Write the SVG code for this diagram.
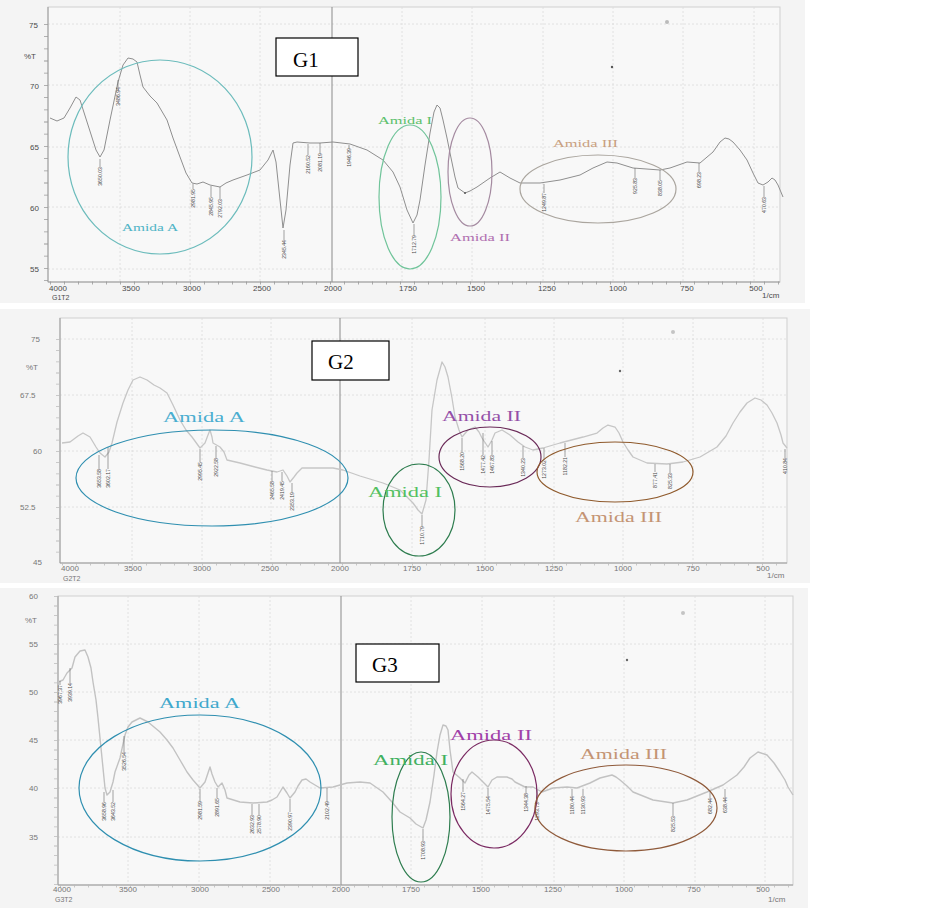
<svg xmlns="http://www.w3.org/2000/svg" width="941" height="908" viewBox="0 0 941 908">
<style>
.scan{fill:#f4f4f4}
.plot{fill:#f8f8f8;stroke:#cfcfcf;stroke-width:1}
.grid{stroke:#dadada;stroke-width:0.8;stroke-dasharray:2 2;fill:none}
.axis{stroke:#9a9a9a;stroke-width:1;fill:none}
.solid{stroke:#8a8a8a;stroke-width:1}
.tk{fill:#4a4a4a;font-family:"Liberation Sans",Arial,sans-serif;font-size:8px}
.pk{fill:#4a4a4a;font-family:"Liberation Sans",Arial,sans-serif;font-size:5.2px;text-anchor:end}
.pl{stroke:#666;stroke-width:0.6}
.gbox{fill:#fff;stroke:#000;stroke-width:1.2}
.gt{font-family:"Liberation Serif","Times New Roman",serif;font-size:21px;fill:#000}
.am{font-family:"Liberation Serif","Times New Roman",serif}
.ell{fill:none;stroke-width:1.2}
</style>

<g id="panel-G1">
<rect class="scan" x="0" y="0" width="805" height="303"/>
<rect class="plot" x="48" y="7" width="732" height="275"/>
<g class="grid">
<line x1="120" y1="7" x2="120" y2="282"/><line x1="190" y1="7" x2="190" y2="282"/><line x1="260" y1="7" x2="260" y2="282"/>
<line x1="402" y1="7" x2="402" y2="282"/><line x1="472" y1="7" x2="472" y2="282"/><line x1="543" y1="7" x2="543" y2="282"/>
<line x1="613" y1="7" x2="613" y2="282"/><line x1="683" y1="7" x2="683" y2="282"/><line x1="754" y1="7" x2="754" y2="282"/>
<line x1="48" y1="24" x2="780" y2="24"/><line x1="48" y1="85" x2="780" y2="85"/><line x1="48" y1="147" x2="780" y2="147"/><line x1="48" y1="207" x2="780" y2="207"/><line x1="48" y1="269" x2="780" y2="269"/>
</g>
<line class="solid" x1="332" y1="7" x2="332" y2="282" stroke="#666"/>
<path class="axis" d="M48 7V282H780"/>
<line x1="46" y1="24" x2="46" y2="282" stroke="#999" stroke-width="4" stroke-dasharray="0.8 11.4"/>
<line x1="50" y1="283" x2="780" y2="283" stroke="#999" stroke-width="3" stroke-dasharray="0.8 13.2"/>
<g class="tk">
<text x="29" y="28">75</text><text x="24" y="59">%T</text><text x="30" y="89">70</text><text x="30" y="150">65</text><text x="30" y="211">60</text><text x="30" y="272">55</text>
<text x="58" y="291" text-anchor="middle">4000</text><text x="131" y="291" text-anchor="middle">3500</text><text x="192" y="291" text-anchor="middle">3000</text><text x="262" y="291" text-anchor="middle">2500</text><text x="333" y="291" text-anchor="middle">2000</text><text x="408" y="291" text-anchor="middle">1750</text><text x="476" y="291" text-anchor="middle">1500</text><text x="547" y="291" text-anchor="middle">1250</text><text x="618" y="291" text-anchor="middle">1000</text><text x="687" y="291" text-anchor="middle">750</text><text x="756" y="291" text-anchor="middle">500</text>
<text x="762" y="298">1/cm</text><text x="52" y="300" font-size="7">G1T2</text>
</g>
<polyline fill="none" stroke="#8f8f8f" stroke-width="1" stroke-linejoin="round" points="50,118 57,121 64,118 70,108 76,97 80,100 88,125 96,150 100,157 104,150 110,120 118,82 123,65 128,58 133,59 137,62 140,75 143,87 150,96 157,103 167,120 173,138 180,157 186,173 192,183 197,184 203,182 210,185 220,187 226,183 233,180 247,175 260,170 268,160 273,150 276,162 280,200 283,228 286,210 290,165 293,143 297,142 310,143 320,143 333,142 350,144 367,150 383,160 393,172 400,187 407,210 413,223 417,215 420,200 425,165 430,133 434,112 437,105 440,108 443,120 447,138 450,153 455,177 458,188 465,193 470,191 477,187 490,178 500,172 505,175 510,178 520,183 540,183 560,180 580,175 593,168 607,162 617,163 633,168 660,170 670,168 687,162 700,163 713,152 720,142 725,138 729,139 733,142 740,150 747,160 753,173 758,183 763,185 768,182 772,178 775,180 778,185 783,197"/>
<g>
<line class="pl" x1="100" y1="159" x2="100" y2="167"/><text class="pk" transform="translate(101.8,167) rotate(-90)">3650.03</text>
<line class="pl" x1="118" y1="80" x2="118" y2="87"/><text class="pk" transform="translate(119.8,87) rotate(-90)">3486.94</text>
<line class="pl" x1="193" y1="184" x2="193" y2="189"/><text class="pk" transform="translate(194.8,189) rotate(-90)">2981.95</text>
<line class="pl" x1="211" y1="186" x2="211" y2="197"/><text class="pk" transform="translate(212.8,197) rotate(-90)">2845.95</text>
<line class="pl" x1="220" y1="187" x2="220" y2="199"/><text class="pk" transform="translate(221.8,199) rotate(-90)">2792.03</text>
<line class="pl" x1="284" y1="230" x2="284" y2="240"/><text class="pk" transform="translate(285.8,240) rotate(-90)">2345.44</text>
<line class="pl" x1="308" y1="144" x2="308" y2="155"/><text class="pk" transform="translate(309.8,155) rotate(-90)">2160.52</text>
<line class="pl" x1="320" y1="143" x2="320" y2="153"/><text class="pk" transform="translate(321.8,153) rotate(-90)">2081.19</text>
<line class="pl" x1="349" y1="145" x2="349" y2="148"/><text class="pk" transform="translate(350.8,148) rotate(-90)">1946.39</text>
<line class="pl" x1="414" y1="224" x2="414" y2="235"/><text class="pk" transform="translate(415.8,235) rotate(-90)">1712.79</text>
<line class="pl" x1="544" y1="184" x2="544" y2="193"/><text class="pk" transform="translate(545.8,193) rotate(-90)">1249.87</text>
<line class="pl" x1="635" y1="168" x2="635" y2="178"/><text class="pk" transform="translate(636.8,178) rotate(-90)">925.83</text>
<line class="pl" x1="660" y1="170" x2="660" y2="180"/><text class="pk" transform="translate(661.8,180) rotate(-90)">838.05</text>
<line class="pl" x1="699" y1="163" x2="699" y2="172"/><text class="pk" transform="translate(700.8,172) rotate(-90)">698.23</text>
<line class="pl" x1="764" y1="186" x2="764" y2="197"/><text class="pk" transform="translate(765.8,197) rotate(-90)">470.63</text>
</g>
<circle cx="612" cy="67" r="1.2" fill="#555"/><circle cx="667" cy="22" r="2" fill="#bbb"/><circle cx="465" cy="193" r="1" fill="#555"/>
<ellipse class="ell" cx="160" cy="157" rx="92" ry="97" stroke="#6cbcbc"/>
<ellipse class="ell" cx="410" cy="197" rx="31" ry="72" stroke="#70c49a"/>
<ellipse class="ell" cx="470" cy="172" rx="22" ry="54" stroke="#a48aa0"/>
<ellipse class="ell" cx="598" cy="189" rx="78" ry="34" stroke="#aaa59e"/>
<text class="am" x="122" y="231" font-size="11" textLength="56" lengthAdjust="spacingAndGlyphs" fill="#4fb4c6">Amida A</text>
<text class="am" x="378" y="124" font-size="11" textLength="54" lengthAdjust="spacingAndGlyphs" fill="#5cc06c">Amida I</text>
<text class="am" x="450" y="241" font-size="11" textLength="60" lengthAdjust="spacingAndGlyphs" fill="#b070b0">Amida II</text>
<text class="am" x="553" y="147" font-size="11" textLength="65" lengthAdjust="spacingAndGlyphs" fill="#c8a080">Amida III</text>
<rect class="gbox" x="276" y="38" width="82" height="38"/>
<text class="gt" x="293" y="67">G1</text>
</g>

<g id="panel-G2">
<rect class="scan" x="0" y="309" width="810" height="274"/>
<rect class="plot" x="60" y="318" width="727" height="245"/>
<g class="grid">
<line x1="132" y1="318" x2="132" y2="563"/><line x1="202" y1="318" x2="202" y2="563"/><line x1="271" y1="318" x2="271" y2="563"/>
<line x1="412" y1="318" x2="412" y2="563"/><line x1="485" y1="318" x2="485" y2="563"/><line x1="554" y1="318" x2="554" y2="563"/>
<line x1="623" y1="318" x2="623" y2="563"/><line x1="693" y1="318" x2="693" y2="563"/><line x1="763" y1="318" x2="763" y2="563"/>
<line x1="60" y1="339" x2="787" y2="339"/><line x1="60" y1="395" x2="787" y2="395"/><line x1="60" y1="451" x2="787" y2="451"/><line x1="60" y1="507" x2="787" y2="507"/>
</g>
<line class="solid" x1="340" y1="318" x2="340" y2="563" stroke="#aaa"/>
<path class="axis" d="M60 318V563H787" stroke="#b5b5b5"/>
<line x1="58" y1="339" x2="58" y2="563" stroke="#bbb" stroke-width="4" stroke-dasharray="0.8 10.4"/>
<line x1="62" y1="564" x2="787" y2="564" stroke="#bbb" stroke-width="3" stroke-dasharray="0.8 13.2"/>
<g class="tk">
<text x="31" y="342" fill="#777">75</text><text x="26" y="370" fill="#777">%T</text><text x="20" y="398" fill="#777">67.5</text><text x="33" y="454" fill="#777">60</text><text x="20" y="510" fill="#777">52.5</text><text x="33" y="565" fill="#777">45</text>
<text x="70" y="571" text-anchor="middle" fill="#777">4000</text><text x="133" y="571" text-anchor="middle" fill="#777">3500</text><text x="202" y="571" text-anchor="middle" fill="#777">3000</text><text x="270" y="571" text-anchor="middle" fill="#777">2500</text><text x="340" y="571" text-anchor="middle" fill="#777">2000</text><text x="412" y="571" text-anchor="middle" fill="#777">1750</text><text x="485" y="571" text-anchor="middle" fill="#777">1500</text><text x="554" y="571" text-anchor="middle" fill="#777">1250</text><text x="623" y="571" text-anchor="middle" fill="#777">1000</text><text x="693" y="571" text-anchor="middle" fill="#777">750</text><text x="763" y="571" text-anchor="middle" fill="#777">500</text>
<text x="767" y="578" fill="#777">1/cm</text><text x="63" y="581" font-size="7" fill="#777">G2T2</text>
</g>
<polyline fill="none" stroke="#c6c6c6" stroke-width="1.3" stroke-linejoin="round" points="62,443 70,442 78,436 83,433 90,437 96,447 100,453 105,457 109,452 112,443 117,422 123,403 128,390 133,380 140,377 147,380 154,385 160,388 167,393 173,405 180,420 186,430 192,437 200,448 205,443 208,435 210,430 212,437 213,443 220,447 224,452 227,460 240,463 255,467 267,470 277,472 283,470 287,476 290,482 294,477 297,473 302,468 320,468 333,468 343,470 360,476 383,483 400,490 413,503 418,510 422,514 426,500 429,460 432,410 437,380 442,362 445,367 448,377 452,398 455,417 459,430 462,437 468,430 475,427 479,432 482,438 488,447 492,440 495,433 502,430 510,435 518,442 525,447 533,450 543,448 560,443 583,437 597,433 603,428 608,425 615,427 619,433 623,442 628,450 633,457 647,463 667,464 683,462 700,457 717,447 726,436 733,423 740,412 747,403 755,398 761,400 767,405 772,413 777,423 781,435 783,443 787,448"/>
<g>
<line class="pl" x1="99" y1="455" x2="99" y2="469"/><text class="pk" transform="translate(100.8,469) rotate(-90)">3653.58</text>
<line class="pl" x1="108" y1="447" x2="108" y2="469"/><text class="pk" transform="translate(109.8,469) rotate(-90)">3602.17</text>
<line class="pl" x1="200" y1="449" x2="200" y2="462"/><text class="pk" transform="translate(201.8,462) rotate(-90)">2995.45</text>
<line class="pl" x1="216" y1="446" x2="216" y2="458"/><text class="pk" transform="translate(217.8,458) rotate(-90)">2922.58</text>
<line class="pl" x1="272" y1="471" x2="272" y2="481"/><text class="pk" transform="translate(273.8,481) rotate(-90)">2465.58</text>
<line class="pl" x1="282" y1="472" x2="282" y2="481"/><text class="pk" transform="translate(283.8,481) rotate(-90)">2419.45</text>
<line class="pl" x1="292" y1="483" x2="292" y2="492"/><text class="pk" transform="translate(293.8,492) rotate(-90)">2353.19</text>
<line class="pl" x1="422" y1="515" x2="422" y2="526"/><text class="pk" transform="translate(423.8,526) rotate(-90)">1710.79</text>
<line class="pl" x1="462" y1="438" x2="462" y2="452"/><text class="pk" transform="translate(463.8,452) rotate(-90)">1568.20</text>
<line class="pl" x1="483" y1="433" x2="483" y2="455"/><text class="pk" transform="translate(484.8,455) rotate(-90)">1477.42</text>
<line class="pl" x1="492" y1="441" x2="492" y2="455"/><text class="pk" transform="translate(493.8,455) rotate(-90)">1467.83</text>
<line class="pl" x1="523" y1="446" x2="523" y2="458"/><text class="pk" transform="translate(524.8,458) rotate(-90)">1340.23</text>
<line class="pl" x1="544" y1="448" x2="544" y2="460"/><text class="pk" transform="translate(545.8,460) rotate(-90)">1273.02</text>
<line class="pl" x1="565" y1="443" x2="565" y2="457"/><text class="pk" transform="translate(566.8,457) rotate(-90)">1182.21</text>
<line class="pl" x1="655" y1="464" x2="655" y2="472"/><text class="pk" transform="translate(656.8,472) rotate(-90)">877.41</text>
<line class="pl" x1="670" y1="464" x2="670" y2="473"/><text class="pk" transform="translate(671.8,473) rotate(-90)">825.33</text>
<line class="pl" x1="785" y1="449" x2="785" y2="458"/><text class="pk" transform="translate(786.8,458) rotate(-90)">410.84</text>
</g>
<circle cx="620" cy="371" r="1.2" fill="#666"/><circle cx="673" cy="332" r="2" fill="#c4c4c4"/>
<ellipse class="ell" cx="212" cy="478" rx="136" ry="48" stroke="#2f8fb0"/>
<ellipse class="ell" cx="419" cy="510" rx="36" ry="46" stroke="#2e7d4f"/>
<ellipse class="ell" cx="490" cy="457" rx="51" ry="30" stroke="#6a2a58"/>
<ellipse class="ell" cx="615" cy="472" rx="78" ry="30" stroke="#8f5a2c"/>
<text class="am" x="163" y="422" font-size="14" textLength="82" lengthAdjust="spacingAndGlyphs" fill="#4aaed0">Amida A</text>
<text class="am" x="368" y="497" font-size="14" textLength="74" lengthAdjust="spacingAndGlyphs" fill="#52c060">Amida I</text>
<text class="am" x="442" y="421" font-size="14" textLength="79" lengthAdjust="spacingAndGlyphs" fill="#9450a8">Amida II</text>
<text class="am" x="575" y="522" font-size="14" textLength="87" lengthAdjust="spacingAndGlyphs" fill="#c49474">Amida III</text>
<rect class="gbox" x="312" y="341" width="77" height="39"/>
<text class="gt" x="328" y="369">G2</text>
</g>

<g id="panel-G3">
<rect class="scan" x="0" y="588" width="808" height="320"/>
<rect class="plot" x="58" y="596" width="735" height="289"/>
<g class="grid">
<line x1="128" y1="596" x2="128" y2="885"/><line x1="199" y1="596" x2="199" y2="885"/><line x1="270" y1="596" x2="270" y2="885"/>
<line x1="411" y1="596" x2="411" y2="885"/><line x1="482" y1="596" x2="482" y2="885"/><line x1="554" y1="596" x2="554" y2="885"/>
<line x1="624" y1="596" x2="624" y2="885"/><line x1="695" y1="596" x2="695" y2="885"/><line x1="765" y1="596" x2="765" y2="885"/>
<line x1="58" y1="644" x2="793" y2="644"/><line x1="58" y1="692" x2="793" y2="692"/><line x1="58" y1="740" x2="793" y2="740"/><line x1="58" y1="788" x2="793" y2="788"/><line x1="58" y1="837" x2="793" y2="837"/>
</g>
<line class="solid" x1="341" y1="596" x2="341" y2="885" stroke="#b8b8b8"/>
<path class="axis" d="M58 596V885H793" stroke="#b5b5b5"/>
<line x1="56" y1="596" x2="56" y2="885" stroke="#bbb" stroke-width="4" stroke-dasharray="0.8 8.8"/>
<line x1="60" y1="886" x2="793" y2="886" stroke="#bbb" stroke-width="3" stroke-dasharray="0.8 13.2"/>
<g class="tk">
<text x="29" y="599" fill="#777">60</text><text x="25" y="623" fill="#777">%T</text><text x="29" y="647" fill="#777">55</text><text x="29" y="695" fill="#777">50</text><text x="29" y="743" fill="#777">45</text><text x="29" y="791" fill="#777">40</text><text x="29" y="840" fill="#777">35</text>
<text x="62" y="892" text-anchor="middle" fill="#777">4000</text><text x="128" y="892" text-anchor="middle" fill="#777">3500</text><text x="200" y="892" text-anchor="middle" fill="#777">3000</text><text x="271" y="892" text-anchor="middle" fill="#777">2500</text><text x="341" y="892" text-anchor="middle" fill="#777">2000</text><text x="411" y="892" text-anchor="middle" fill="#777">1750</text><text x="481" y="892" text-anchor="middle" fill="#777">1500</text><text x="553" y="892" text-anchor="middle" fill="#777">1250</text><text x="624" y="892" text-anchor="middle" fill="#777">1000</text><text x="694" y="892" text-anchor="middle" fill="#777">750</text><text x="763" y="892" text-anchor="middle" fill="#777">500</text>
<text x="768" y="902" fill="#777">1/cm</text><text x="55" y="902" font-size="7" fill="#777">G3T2</text>
</g>
<polyline fill="none" stroke="#c2c2c2" stroke-width="1.4" stroke-linejoin="round" points="58,682 63,680 67,673 72,668 75,657 80,651 85,650 88,657 91,668 93,682 96,700 98,718 100,738 102,758 105,788 107,795 110,792 113,782 115,772 120,758 125,735 128,727 132,722 140,718 148,722 154,727 160,732 167,740 173,748 180,760 187,772 193,780 200,788 205,782 208,773 210,767 212,774 215,782 218,787 222,783 225,790 227,798 240,802 253,803 267,802 272,800 277,797 283,787 287,793 290,798 295,792 298,786 302,780 306,779 310,782 320,788 333,787 347,783 360,782 370,783 383,792 392,802 400,812 410,818 416,824 423,828 426,820 430,802 434,775 437,752 440,735 443,725 446,726 448,730 450,750 453,772 460,778 465,783 469,775 472,772 478,777 483,782 488,787 492,780 497,777 507,777 512,779 515,782 525,787 533,787 542,792 553,788 567,787 577,788 590,783 600,778 612,775 616,777 620,780 627,786 633,792 653,800 673,803 687,800 707,792 723,785 737,775 744,767 750,758 758,752 767,755 774,763 780,772 785,780 788,787 793,795"/>
<g>
<line class="pl" x1="60" y1="681" x2="60" y2="685"/><text class="pk" transform="translate(61.8,685) rotate(-90)">3967.37</text>
<line class="pl" x1="70" y1="668" x2="70" y2="683"/><text class="pk" transform="translate(71.8,683) rotate(-90)">3939.14</text>
<line class="pl" x1="124" y1="736" x2="124" y2="752"/><text class="pk" transform="translate(125.8,752) rotate(-90)">3526.54</text>
<line class="pl" x1="104" y1="792" x2="104" y2="802"/><text class="pk" transform="translate(105.8,802) rotate(-90)">3658.96</text>
<line class="pl" x1="113" y1="790" x2="113" y2="802"/><text class="pk" transform="translate(114.8,802) rotate(-90)">3643.52</text>
<line class="pl" x1="200" y1="789" x2="200" y2="801"/><text class="pk" transform="translate(201.8,801) rotate(-90)">2981.59</text>
<line class="pl" x1="217" y1="788" x2="217" y2="798"/><text class="pk" transform="translate(218.8,798) rotate(-90)">2891.65</text>
<line class="pl" x1="252" y1="804" x2="252" y2="815"/><text class="pk" transform="translate(253.8,815) rotate(-90)">2632.93</text>
<line class="pl" x1="259" y1="804" x2="259" y2="815"/><text class="pk" transform="translate(260.8,815) rotate(-90)">2578.90</text>
<line class="pl" x1="290" y1="799" x2="290" y2="812"/><text class="pk" transform="translate(291.8,812) rotate(-90)">2390.97</text>
<line class="pl" x1="327" y1="788" x2="327" y2="801"/><text class="pk" transform="translate(328.8,801) rotate(-90)">2102.49</text>
<line class="pl" x1="423" y1="829" x2="423" y2="841"/><text class="pk" transform="translate(424.8,841) rotate(-90)">1708.93</text>
<line class="pl" x1="463" y1="779" x2="463" y2="792"/><text class="pk" transform="translate(464.8,792) rotate(-90)">1564.27</text>
<line class="pl" x1="488" y1="788" x2="488" y2="796"/><text class="pk" transform="translate(489.8,796) rotate(-90)">1475.54</text>
<line class="pl" x1="526" y1="786" x2="526" y2="793"/><text class="pk" transform="translate(527.8,793) rotate(-90)">1344.38</text>
<line class="pl" x1="537" y1="790" x2="537" y2="802"/><text class="pk" transform="translate(538.8,802) rotate(-90)">1293.73</text>
<line class="pl" x1="572" y1="789" x2="572" y2="796"/><text class="pk" transform="translate(573.8,796) rotate(-90)">1180.44</text>
<line class="pl" x1="583" y1="789" x2="583" y2="796"/><text class="pk" transform="translate(584.8,796) rotate(-90)">1130.93</text>
<line class="pl" x1="673" y1="803" x2="673" y2="816"/><text class="pk" transform="translate(674.8,816) rotate(-90)">825.53</text>
<line class="pl" x1="710" y1="792" x2="710" y2="798"/><text class="pk" transform="translate(711.8,798) rotate(-90)">682.44</text>
<line class="pl" x1="725" y1="789" x2="725" y2="797"/><text class="pk" transform="translate(726.8,797) rotate(-90)">638.44</text>
</g>
<circle cx="627" cy="660" r="1.2" fill="#666"/><circle cx="683" cy="613" r="2" fill="#c4c4c4"/>
<ellipse class="ell" cx="200" cy="788" rx="121" ry="73" stroke="#2f8fb0"/>
<ellipse class="ell" cx="421" cy="817" rx="29" ry="65" stroke="#2e7d4f"/>
<ellipse class="ell" cx="494" cy="794" rx="43" ry="54" stroke="#7a2a62"/>
<ellipse class="ell" cx="626" cy="808" rx="91" ry="43" stroke="#8f5a3a"/>
<text class="am" x="159" y="708" font-size="15" textLength="81" lengthAdjust="spacingAndGlyphs" fill="#40a8cc">Amida A</text>
<text class="am" x="373" y="765" font-size="15" textLength="75" lengthAdjust="spacingAndGlyphs" fill="#40b060">Amida I</text>
<text class="am" x="450" y="740" font-size="15" textLength="82" lengthAdjust="spacingAndGlyphs" fill="#a040a8">Amida II</text>
<text class="am" x="580" y="759" font-size="15" textLength="87" lengthAdjust="spacingAndGlyphs" fill="#c49474">Amida III</text>
<rect class="gbox" x="356" y="644" width="83" height="38"/>
<text class="gt" x="372" y="672">G3</text>
</g>
<g id="connectors"/>
</svg>
